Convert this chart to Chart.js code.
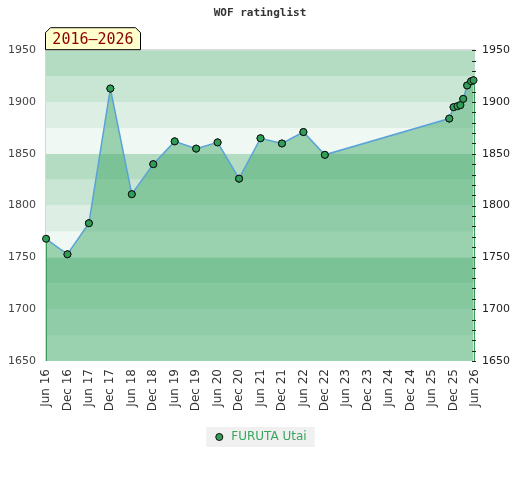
<!DOCTYPE html>
<html>
<head>
<meta charset="utf-8">
<script src="https://cdn.jsdelivr.net/npm/chart.js@4/dist/chart.umd.min.js"></script>
<style>
  html, body { margin: 0; padding: 0; background: #fff; }
  #wrap { width: 520px; height: 480px; }
</style>
</head>
<body>
<div id="wrap"><canvas id="chart" width="520" height="480"></canvas></div>
<script>
// months counted from Jun 2016
const monthIdx = [0, 6, 12, 18, 24, 30, 36, 42, 48, 54, 60, 66, 72, 78,
                  112.8, 114.0, 115.1, 115.9, 116.7, 117.8, 118.9, 119.6];
const ratings  = [1768, 1753, 1783, 1913, 1811, 1840, 1862, 1855, 1861, 1826, 1865, 1860, 1871, 1849,
                  1884, 1895, 1896, 1897, 1903, 1916, 1920, 1921];
const tickMonths = ['Jun', 'Dec'];
const startYear = 16;
const playerName = 'FURUTA Utai';
const periodLabel = '2016\u20132026';

const tickLabel = (m) => {
    const half = Math.round(m / 6);
    return `${tickMonths[half % 2]} ${startYear + Math.floor(half / 2)}`;
};

// rating bands behind the plot, 25 points each
const bandsPlugin = {
    id: 'bands',
    beforeDatasetsDraw(chart) {
        const { ctx, chartArea, scales } = chart;
        const colors = { 50: '#f0f8f3', 75: '#ddeee4', 0: '#c8e6d3', 25: '#b3dcc2' };
        ctx.save();
        for (let v = 1650; v < 1950; v += 25) {
            const top = scales.y.getPixelForValue(v + 25);
            const bot = scales.y.getPixelForValue(v);
            ctx.fillStyle = colors[v % 100];
            ctx.fillRect(chartArea.left, top, chartArea.right - chartArea.left, bot - top);
        }
        ctx.strokeStyle = '#d6d6d6';
        ctx.lineWidth = 1;
        ctx.beginPath();
        ctx.moveTo(chartArea.left - 0.5, chartArea.bottom);
        ctx.lineTo(chartArea.left - 0.5, chartArea.top - 0.5);
        ctx.lineTo(chartArea.right, chartArea.top - 0.5);
        ctx.stroke();
        ctx.restore();
    },
    afterDatasetsDraw(chart) {
        const { ctx, chartArea, scales } = chart;
        const pts = chart.getDatasetMeta(0).data;
        ctx.save();
        ctx.strokeStyle = '#3d9b5c';
        ctx.lineWidth = 1;
        [pts[0], pts[pts.length - 1]].forEach(p => {
            ctx.beginPath();
            ctx.moveTo(Math.round(p.x) + 0.5, p.y);
            ctx.lineTo(Math.round(p.x) + 0.5, chartArea.bottom);
            ctx.stroke();
        });
        // small ticks on the right axis
        ctx.strokeStyle = '#222';
        for (let v = 1650; v <= 1950; v += 10) {
            const y = Math.round(scales.y.getPixelForValue(v)) + 0.5;
            ctx.beginPath();
            ctx.moveTo(chartArea.right - 3, y);
            ctx.lineTo(chartArea.right + 1, y);
            ctx.stroke();
        }
        // redraw points above the vertical lines
        pts.forEach(p => p.draw(ctx, chartArea));
        ctx.restore();
    },
    afterDraw(chart) {
        const { ctx, chartArea } = chart;
        // period tag
        const x0 = chartArea.left - 0.5, y1 = chartArea.top - 0.5;
        const w = 95, h = 22, c = 5;
        ctx.save();
        ctx.beginPath();
        ctx.moveTo(x0, y1);
        ctx.lineTo(x0, y1 - h + c);
        ctx.lineTo(x0 + c, y1 - h);
        ctx.lineTo(x0 + w - c, y1 - h);
        ctx.lineTo(x0 + w, y1 - h + c);
        ctx.lineTo(x0 + w, y1);
        ctx.closePath();
        ctx.fillStyle = '#ffffcc';
        ctx.fill();
        ctx.strokeStyle = '#000';
        ctx.lineWidth = 1;
        ctx.stroke();
        ctx.fillStyle = '#8b0000';
        ctx.font = '15px "DejaVu Sans Mono"';
        ctx.textAlign = 'center';
        ctx.textBaseline = 'middle';
        ctx.fillText(periodLabel, x0 + w / 2, y1 - h / 2 + 1);
        ctx.restore();
    },
    beforeDraw(chart) {
        const { ctx } = chart;
        const box = chart.legend.legendHitBoxes[0];
        if (!box) return;
        ctx.save();
        ctx.fillStyle = '#f0f0f0';
        ctx.fillRect(box.left - 7, box.top - 4, box.width + 15, box.height + 8);
        ctx.restore();
    }
};

const ctx = document.getElementById('chart');
new Chart(ctx, {
    type: 'line',
    data: {
        datasets: [{
            label: playerName,
            data: monthIdx.map((m, i) => ({ x: m, y: ratings[i] })),
            borderColor: '#5aa2d8',
            borderWidth: 1.5,
            backgroundColor: 'rgba(68,170,105,0.5)',
            fill: 'start',
            tension: 0,
            pointRadius: 3.5,
            pointHoverRadius: 3.5,
            pointBackgroundColor: '#2f9e57',
            pointBorderColor: '#111',
            pointBorderWidth: 1
        }]
    },
    options: {
        responsive: false,
        animation: false,
        layout: { padding: { left: 0, right: 0, top: 0, bottom: 27 } },
        scales: {
            x: {
                type: 'linear',
                min: 0,
                max: 120,
                afterBuildTicks: (axis) => {
                    axis.ticks = [];
                    for (let m = 0; m <= 120; m += 6) axis.ticks.push({ value: m });
                },
                afterFit: (axis) => { axis.height = 60; },
                grid: { display: false, drawTicks: false },
                border: { display: false },
                ticks: {
                    autoSkip: false,
                    maxRotation: 90,
                    minRotation: 90,
                    color: '#333',
                    font: { family: 'DejaVu Sans', size: 12 },
                    padding: 8,
                    callback: (v) => tickLabel(v)
                }
            },
            y: {
                position: 'left',
                min: 1650,
                max: 1950,
                afterFit: (axis) => { axis.width = 46; },
                grid: { display: false, drawTicks: false },
                border: { display: false },
                ticks: {
                    stepSize: 50,
                    color: '#444',
                    font: { family: 'DejaVu Sans', size: 11 },
                    padding: 10,
                    callback: (v) => String(v)
                }
            },
            y2: {
                position: 'right',
                min: 1650,
                max: 1950,
                afterFit: (axis) => { axis.width = 45; },
                grid: { display: false, drawTicks: false },
                border: { display: false },
                ticks: {
                    stepSize: 50,
                    color: '#222',
                    font: { family: 'DejaVu Sans', size: 11 },
                    padding: 7,
                    callback: (v) => String(v)
                }
            }
        },
        plugins: {
            title: {
                display: true,
                text: 'WOF ratinglist',
                color: '#333',
                font: { family: 'DejaVu Sans Mono', size: 11, weight: 'bold' },
                padding: { top: 7, bottom: 30 }
            },
            legend: {
                position: 'bottom',
                labels: {
                    usePointStyle: true,
                    pointStyle: 'circle',
                    boxWidth: 12,
                    boxHeight: 5,
                    color: '#3aa65e',
                    font: { family: 'DejaVu Sans', size: 12 },
                    padding: 10
                }
            },
            tooltip: { enabled: false }
        }
    },
    plugins: [bandsPlugin]
});
</script>
</body>
</html>
